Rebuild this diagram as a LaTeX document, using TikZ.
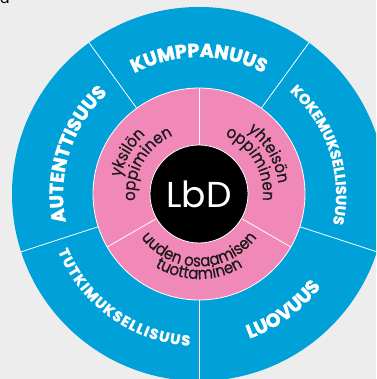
\documentclass[tikz,border=0pt]{standalone}
\usepackage{fontspec}
\setmainfont{Poppins}
\newfontfamily\labelfont{Poppins}[LetterSpace=12, BoldFeatures={FakeBold=2}]
\newfontfamily\smalllabelfont{Poppins}[LetterSpace=14, BoldFeatures={FakeBold=1.6}]
\newfontfamily\pinkfont{Poppins}[FakeBold=0.5, FakeStretch=0.9]
\usetikzlibrary{decorations.text}
\definecolor{wheelblue}{HTML}{00A0D8}
\definecolor{ringpink}{HTML}{F088B8}
\definecolor{paper}{HTML}{EDEDEE}
\newcommand{\bluebig}{\labelfont\bfseries\fontsize{19}{19}\selectfont\color{white}}
\newcommand{\bluesmall}{\smalllabelfont\bfseries\fontsize{14.5}{14.5}\selectfont\color{white}}
\newcommand{\bluewide}{\smalllabelfont\bfseries\fontsize{14.5}{14.5}\selectfont\color{white}\kern1.4pt}
\newcommand{\pinktext}{\pinkfont\fontsize{16.5}{16.5}\selectfont\color{black!90}}
\tikzstyle{wheel} = [circle, fill=wheelblue, minimum size=374pt, inner sep=0pt]
\tikzstyle{ring} = [circle, fill=ringpink, draw=white, line width=0.8pt, minimum size=212pt, inner sep=0pt]
\tikzstyle{hub} = [circle, fill=black, draw=white, line width=0.8pt, minimum size=98pt, inner sep=0pt, text=white, font=\fontsize{36}{36}\selectfont]
\tikzstyle{divider} = [draw=white, line width=0.8pt]
\tikzstyle{arclabel} = [decorate, decoration={text along path, text align=center}]

\begin{document}
\begin{tikzpicture}[x=1pt, y=1pt]
	\clip (0,0) rectangle (376,379);
	\fill[paper] (0,0) rectangle (376,379);
	\node[anchor=base east, font=\fontsize{14}{14}\selectfont] (cut) at (13,375.5) {ta};
	% Place nodes
	\coordinate (c) at (199,185);
	\node [wheel] (wheel) at (c) {};
	\node [ring] (ring) at (c) {};
	\node [hub] (hub) at (c) {LbD};
	% Draw dividers
	\path [divider] (ring.54) -- (wheel.54);
	\path [divider] (ring.126) -- (wheel.126);
	\path [divider] (ring.198) -- (wheel.198);
	\path [divider] (ring.270) -- (wheel.270);
	\path [divider] (ring.342) -- (wheel.342);
	\path [divider] (hub.90) -- (ring.90);
	\path [divider] (hub.210) -- (ring.210);
	\path [divider] (hub.330) -- (ring.330);
	% Outer labels
	\path [arclabel, decoration={text={|\bluebig|KUMPPANUUS}}] ([shift={(126:137pt)}]c) arc[start angle=126, end angle=54, radius=137pt];
	\path [arclabel, decoration={text={|\bluebig|AUTENTTISUUS}}] ([shift={(198:136pt)}]c) arc[start angle=198, end angle=126, radius=136pt];
	\path [arclabel, decoration={text={|\bluesmall|KOKEMUKSELLISUUS}}] ([shift={(54:137pt)}]c) arc[start angle=54, end angle=-18, radius=137pt];
	\path [arclabel, decoration={text={|\bluewide|TUTKIMUKSELLISUUS}}] ([shift={(198:152pt)}]c) arc[start angle=198, end angle=270, radius=152pt];
	\path [arclabel, decoration={text={|\bluebig|LUOVUUS}}] ([shift={(270:153pt)}]c) arc[start angle=270, end angle=342, radius=153pt];
	% Inner labels
	\path [arclabel, decoration={text={|\pinktext|yksilön}}] ([shift={(210:80pt)}]c) arc[start angle=210, end angle=90, radius=80pt];
	\path [arclabel, decoration={text={|\pinktext|oppiminen}}] ([shift={(210:64pt)}]c) arc[start angle=210, end angle=90, radius=64pt];
	\path [arclabel, decoration={text={|\pinktext|yhteisön}}] ([shift={(90:80pt)}]c) arc[start angle=90, end angle=-30, radius=80pt];
	\path [arclabel, decoration={text={|\pinktext|oppiminen}}] ([shift={(90:64pt)}]c) arc[start angle=90, end angle=-30, radius=64pt];
	\path [arclabel, decoration={text={|\pinktext|uuden osaamisen}}] ([shift={(210:72.5pt)}]c) arc[start angle=210, end angle=330, radius=72.5pt];
	\path [arclabel, decoration={text={|\pinktext|tuottaminen}}] ([shift={(210:85pt)}]c) arc[start angle=210, end angle=330, radius=85pt];
\end{tikzpicture}
\end{document}
